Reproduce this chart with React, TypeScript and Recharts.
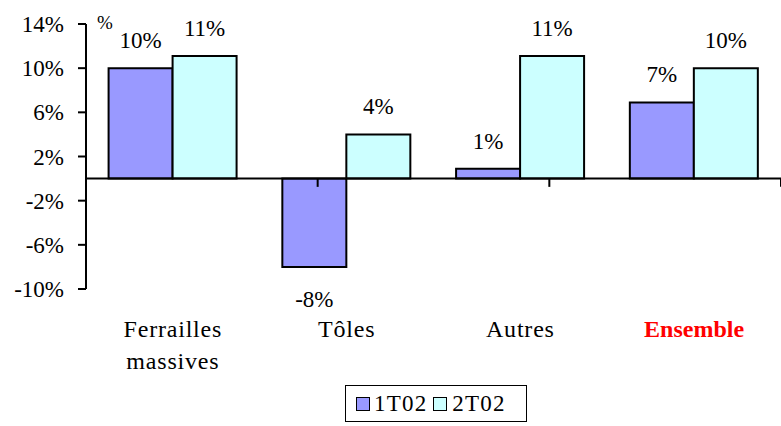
import { BarChart, Bar, XAxis, YAxis, ReferenceLine, LabelList, Legend } from "recharts";

const categories = ["Ferrailles massives", "Tôles", "Autres", "Ensemble"];
const t1Values = [10, -8, 0.9, 6.9];
const t2Values = [11.1, 4, 11.1, 10];
const yTicks = [-10, -6, -2, 2, 6, 10, 14];
const boundaries = [1, 2, 3, 4];

const data = categories.map((name, i) => ({ name, t1: t1Values[i], t2: t2Values[i] }));

const FONT = "Liberation Serif, Times New Roman, serif";

const renderLabel = (p: any) => {
  const { x, y, width, height, value } = p;
  const top = Math.min(y, y + height);
  const bottom = Math.max(y, y + height);
  const by = value >= 0 ? top - 20 : bottom + 40;
  return (
    <text x={x + width / 2} y={by} textAnchor="middle"
      style={{ fontFamily: FONT }} fontSize={23} fill="#000">
      {Math.round(value)}%
    </text>
  );
};

const CategoryTick = (props: any) => {
  const { x, y, payload } = props;
  const bold = payload.value === "Ensemble";
  const lines = payload.value === "Ferrailles massives" ? ["Ferrailles", "massives"] : [payload.value];
  return (
    <text x={x} y={y} textAnchor="middle" style={{ fontFamily: FONT }} fontSize={24}
      fontWeight={bold ? "bold" : "normal"} fill={bold ? "#FF0000" : "#000"}
      letterSpacing={bold ? 0 : 0.8}>
      {lines.map((l, i) => (
        <tspan key={i} x={x} dy={i === 0 ? 48 : 32}>{l}</tspan>
      ))}
    </text>
  );
};

const LegendBox = () => (
  <div style={{
    boxSizing: "border-box", width: 182, height: 37, border: "1.5px solid #000",
    display: "flex", alignItems: "center", paddingLeft: 10,
    fontFamily: FONT, fontSize: 23, letterSpacing: 1.2, background: "#fff",
  }}>
    <span style={{ width: 12, height: 12, background: "#9999FF", border: "1.5px solid #000", marginRight: 4 }} />
    <span style={{ marginRight: 6 }}>1T02</span>
    <span style={{ width: 12, height: 12, background: "#CCFFFF", border: "1.5px solid #000", marginRight: 5 }} />
    <span>2T02</span>
  </div>
);

export default function App() {
  return (
    <div style={{ fontFamily: FONT }}>
      <style>{`body{margin:0}`}</style>
      <BarChart width={781} height={426} data={data} barCategoryGap="13%" barGap={0}
        margin={{ top: 24, right: 0, bottom: 70, left: 6 }}>
        <XAxis dataKey="name" axisLine={false} tickLine={false} tickSize={0} tickMargin={0}
          interval={0} tick={<CategoryTick />} />
        <XAxis xAxisId="n" type="number" domain={[0, 4]} hide />
        <YAxis domain={[-10, 14]} ticks={yTicks} interval={0} width={80}
          tickFormatter={(v) => `${v}%`} tickSize={8} tickMargin={14}
          axisLine={{ stroke: "#000", strokeWidth: 2 }} tickLine={{ stroke: "#000", strokeWidth: 2 }}
          tick={{ fill: "#000", fontFamily: FONT, fontSize: 23 }}
          label={{
            content: (lp: any) => {
              const vb = lp.viewBox;
              return (
                <text x={vb.x + vb.width + 19} y={vb.y - 2} textAnchor="middle" dominantBaseline="central"
                  style={{ fontFamily: FONT }} fontSize={19} fill="#000">%</text>
              );
            },
          }} />
        <ReferenceLine y={0} stroke="#000" strokeWidth={2} />
        {boundaries.map((b) => (
          <ReferenceLine key={b} xAxisId="n" segment={[{ x: b, y: 0 }, { x: b, y: -0.75 }]}
            stroke="#000" strokeWidth={2} />
        ))}
        <Bar dataKey="t1" name="1T02" fill="#9999FF" stroke="#000" strokeWidth={2} isAnimationActive={false}>
          <LabelList dataKey="t1" content={renderLabel} />
        </Bar>
        <Bar dataKey="t2" name="2T02" fill="#CCFFFF" stroke="#000" strokeWidth={2} isAnimationActive={false}>
          <LabelList dataKey="t2" content={renderLabel} />
        </Bar>
        <Legend verticalAlign="bottom" content={<LegendBox />}
          wrapperStyle={{ left: 345, bottom: 4, width: 182, height: 37 }} />
      </BarChart>
    </div>
  );
}
